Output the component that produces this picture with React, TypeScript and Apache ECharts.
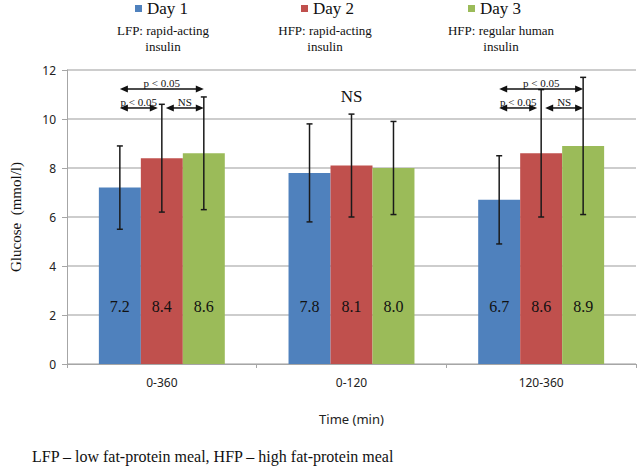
import React, { useEffect, useRef } from "react";
import * as echarts from "echarts";

const categories = ["0-360", "0-120", "120-360"];
const seriesNames = ["Day 1", "Day 2", "Day 3"];
const day1 = [7.2, 7.8, 6.7];
const day1Low = [5.5, 5.8, 4.9];
const day1High = [8.9, 9.8, 8.5];
const day2 = [8.4, 8.1, 8.6];
const day2Low = [6.2, 6.0, 6.0];
const day2High = [10.6, 10.2, 11.2];
const day3 = [8.6, 8.0, 8.9];
const day3Low = [6.3, 6.1, 6.1];
const day3High = [10.9, 9.9, 11.7];
const colors = ["#4F81BD", "#C0504D", "#9BBB59"];
const subtitles = [
  ["LFP: rapid-acting", "insulin"],
  ["HFP: rapid-acting", "insulin"],
  ["HFP: regular human", "insulin"],
];
// significance brackets: category, from series, to series, level, label
const sigCategory = [0, 0, 0, 2, 2, 2];
const sigFrom = [0, 0, 1, 0, 0, 1];
const sigTo = [2, 1, 2, 2, 1, 2];
const sigLevel = [11.22, 10.45, 10.45, 11.22, 10.45, 10.45];
const sigLabel = ["p < 0.05", "p < 0.05", "NS", "p < 0.05", "p < 0.05", "NS"];
const nsCategory = [1];
const nsLevel = [10.9];
const nsLabel = ["NS"];
const yTicks = { min: 0, max: 12, interval: 2 };

const GAP = 0.336;
const SERIF = "Liberation Serif";

export default function App() {
  const ref = useRef<HTMLDivElement>(null);
  useEffect(() => {
    if (!ref.current) return;
    const chart = echarts.init(ref.current, null, { renderer: "svg" });
    const values = [day1, day2, day3];
    const lows = [day1Low, day2Low, day3Low];
    const highs = [day1High, day2High, day3High];

    const barCenter = (api: any, cat: number, s: number, v: number) => {
      const p = api.coord([cat, v]);
      const band = api.size([1, 0])[0];
      const bw = (band * (1 - GAP)) / 3;
      return [p[0] + (s - 1) * bw, p[1]];
    };

    const barSeries = values.map((vals, s) => ({
      name: seriesNames[s],
      type: "bar",
      data: vals,
      barGap: "0%",
      barCategoryGap: GAP * 100 + "%",
      itemStyle: { color: colors[s] },
      label: {
        show: true,
        position: "insideBottom",
        distance: 50,
        fontFamily: SERIF,
        fontSize: 16,
        fontWeight: "normal",
        color: "#111",
        textBorderWidth: 0,
        formatter: (p: any) => Number(p.value).toFixed(1),
      },
    }));

    const errSeries = values.map((vals, s) => ({
      name: seriesNames[s] + " err",
      type: "custom",
      z: 10,
      silent: true,
      encode: { x: 0, y: [1, 2] },
      data: vals.map((_, i) => [i, lows[s][i], highs[s][i]]),
      renderItem: (params: any, api: any) => {
        const cat = api.value(0);
        const lo = barCenter(api, cat, s, api.value(1));
        const hi = barCenter(api, cat, s, api.value(2));
        const st = { stroke: "#1a1a1a", lineWidth: 1.5 };
        const c = 3;
        return {
          type: "group",
          children: [
            { type: "line", shape: { x1: lo[0], y1: lo[1], x2: hi[0], y2: hi[1] }, style: st },
            { type: "line", shape: { x1: lo[0] - c, y1: lo[1], x2: lo[0] + c, y2: lo[1] }, style: st },
            { type: "line", shape: { x1: hi[0] - c, y1: hi[1], x2: hi[0] + c, y2: hi[1] }, style: st },
          ],
        };
      },
    }));

    const sigSeries = {
      name: "sig",
      type: "custom",
      z: 11,
      silent: true,
      encode: { x: 0, y: 3 },
      data: sigCategory.map((c, i) => [c, sigFrom[i], sigTo[i], sigLevel[i]]),
      renderItem: (params: any, api: any) => {
        const idx = params.dataIndex;
        const cat = api.value(0);
        const f = api.value(1);
        const t = api.value(2);
        const a = barCenter(api, cat, f, api.value(3));
        const b = barCenter(api, cat, t, api.value(3));
        let x1 = a[0];
        let x2 = b[0];
        const y = a[1];
        if (t - f === 1) {
          if (f === 1) x1 += 4;
          if (t === 1) x2 -= 4;
        }
        const hl = 8;
        const hw = 3.5;
        const fill = { fill: "#111" };
        return {
          type: "group",
          children: [
            {
              type: "line",
              shape: { x1: x1 + 5, y1: y, x2: x2 - 5, y2: y },
              style: { stroke: "#111", lineWidth: 1.5 },
            },
            { type: "polygon", shape: { points: [[x1, y], [x1 + hl, y - hw], [x1 + hl, y + hw]] }, style: fill },
            { type: "polygon", shape: { points: [[x2, y], [x2 - hl, y - hw], [x2 - hl, y + hw]] }, style: fill },
            {
              type: "text",
              x: (x1 + x2) / 2,
              y: y - 6,
              style: {
                text: sigLabel[idx],
                fontFamily: SERIF,
                fontSize: 11,
                fill: "#111",
                align: "center",
                verticalAlign: "middle",
              },
            },
          ],
        };
      },
    };

    const nsSeries = {
      name: "ns",
      type: "custom",
      z: 11,
      silent: true,
      encode: { x: 0, y: 1 },
      data: nsCategory.map((c, i) => [c, nsLevel[i]]),
      renderItem: (params: any, api: any) => {
        const p = api.coord([api.value(0), api.value(1)]);
        return {
          type: "text",
          x: p[0],
          y: p[1],
          style: {
            text: nsLabel[params.dataIndex],
            fontFamily: SERIF,
            fontSize: 17,
            fill: "#111",
            align: "center",
            verticalAlign: "middle",
          },
        };
      },
    };

    const legendLefts = [135, 301, 468];
    const subCenters = [163, 325, 501];

    const graphics: any[] = [];
    subtitles.forEach((lines, i) => {
      lines.forEach((ln, j) => {
        graphics.push({
          type: "text",
          x: subCenters[i],
          y: 30 + j * 16,
          style: {
            text: ln,
            fontFamily: SERIF,
            fontSize: 13,
            fill: "#111",
            align: "center",
            verticalAlign: "middle",
          },
        });
      });
    });
    graphics.push({
      type: "text",
      x: 32,
      y: 456,
      style: {
        text: "LFP – low fat-protein meal, HFP – high fat-protein meal",
        fontFamily: SERIF,
        fontSize: 16,
        fill: "#111",
        align: "left",
        verticalAlign: "middle",
      },
    });

    chart.setOption({
      animation: false,
      backgroundColor: "#fff",
      grid: { left: 60, right: 2, top: 70, bottom: 103 },
      legend: seriesNames.map((n, i) => ({
        data: [n],
        left: legendLefts[i],
        top: 0,
        padding: 0,
        icon: "rect",
        itemWidth: 7,
        itemHeight: 7,
        itemGap: 5,
        textStyle: { fontFamily: SERIF, fontSize: 17, color: "#111", padding: [2, 0, 0, 0] },
      })),
      graphic: graphics,
      xAxis: {
        type: "category",
        data: categories,
        axisLine: { lineStyle: { color: "#a6a6a6", width: 1 } },
        axisTick: { show: true, length: 4, lineStyle: { color: "#a6a6a6" } },
        axisLabel: { margin: 12, fontFamily: "Noto Sans", fontSize: 12, color: "#222" },
        name: "Time (min)",
        nameLocation: "middle",
        nameGap: 48,
        nameTextStyle: { fontFamily: "Noto Sans", fontSize: 13, color: "#222" },
      },
      yAxis: {
        type: "value",
        min: yTicks.min,
        max: yTicks.max,
        interval: yTicks.interval,
        axisLine: { show: true, lineStyle: { color: "#a6a6a6" } },
        axisTick: { show: true, length: 5, lineStyle: { color: "#a6a6a6" } },
        splitLine: { lineStyle: { color: "#bdbdbd", width: 1.5 } },
        axisLabel: { margin: 11, fontFamily: "Noto Sans", fontSize: 12, color: "#222" },
        name: "Glucose  (mmol/l)",
        nameLocation: "middle",
        nameGap: 44,
        nameTextStyle: { fontFamily: SERIF, fontSize: 15, color: "#111" },
      },
      series: [...barSeries, ...errSeries, sigSeries, nsSeries],
    });
    return () => chart.dispose();
  }, []);
  return (
    <div
      ref={ref}
      style={{ position: "fixed", left: 0, top: 0, width: 638, height: 467, background: "#fff" }}
    />
  );
}
